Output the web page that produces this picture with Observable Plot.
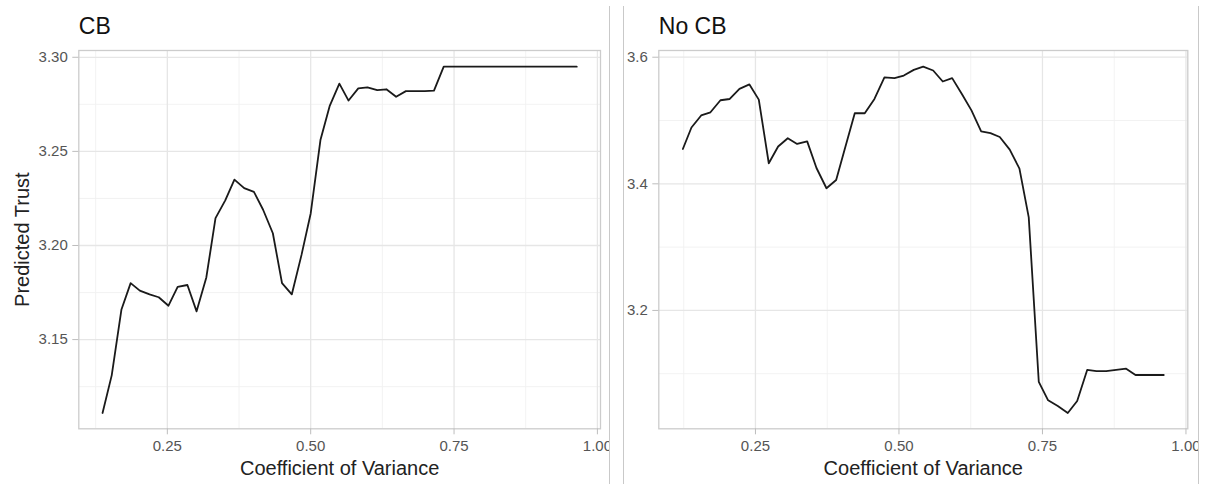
<!DOCTYPE html>
<html>
<head>
<meta charset="utf-8">
<script src="https://cdn.jsdelivr.net/npm/d3@7"></script>
<script src="https://cdn.jsdelivr.net/npm/@observablehq/plot@0.6"></script>
<style>
  html, body { margin: 0; padding: 0; background: #fff; }
  #wrap { position: relative; width: 1206px; height: 484px; overflow: hidden; font-family: "Liberation Sans", Arial, sans-serif; }
  .panel { position: absolute; top: 0; height: 484px; overflow: hidden; }
  .divider { position: absolute; top: 6px; height: 478px; width: 0; border-left: 1px solid #c9c9c9; }
</style>
</head>
<body>
<div id="wrap">
  <div class="panel" id="left" style="left:0;width:609px"></div>
  <div class="panel" id="right" style="left:624px;width:574px"></div>
  <div class="divider" style="left:609px"></div>
  <div class="divider" style="left:623px"></div>
  <div class="divider" style="left:1198px"></div>
</div>
<script>
// ---- Data ----
const panelTitles = ["CB", "No CB"];
const xTitle = "Coefficient of Variance";
const yTitle = "Predicted Trust";

const cbX = [0.137, 0.153, 0.170, 0.186, 0.202, 0.219, 0.235, 0.252, 0.268, 0.285,
             0.301, 0.318, 0.334, 0.351, 0.367, 0.384, 0.401, 0.417, 0.434, 0.450,
             0.467, 0.484, 0.500, 0.517, 0.533, 0.550, 0.566, 0.583, 0.599, 0.616,
             0.632, 0.649, 0.666, 0.682, 0.699, 0.715, 0.732, 0.748, 0.765, 0.781,
             0.798, 0.815, 0.831, 0.848, 0.864, 0.881, 0.897, 0.914, 0.931, 0.947, 0.964];
const cbY = [3.111, 3.131, 3.166, 3.180, 3.176, 3.174, 3.1725, 3.168, 3.178, 3.179,
             3.165, 3.183, 3.2145, 3.224, 3.235, 3.2305, 3.2285, 3.219, 3.2065, 3.180,
             3.174, 3.195, 3.217, 3.256, 3.274, 3.286, 3.277, 3.2835, 3.284, 3.2825,
             3.283, 3.279, 3.282, 3.282, 3.282, 3.2823, 3.295, 3.295, 3.295, 3.295,
             3.295, 3.295, 3.295, 3.295, 3.295, 3.295, 3.295, 3.295, 3.295, 3.295, 3.295];

const noCbX = [0.1235, 0.1385, 0.1554, 0.1716, 0.189, 0.2052, 0.2221, 0.2395, 0.2558, 0.2732,
               0.2895, 0.3063, 0.3226, 0.3401, 0.3563, 0.3737, 0.3906, 0.4068, 0.423, 0.4404,
               0.4573, 0.4747, 0.4922, 0.5084, 0.5258, 0.5422, 0.5596, 0.5763, 0.5927, 0.6101,
               0.6263, 0.6432, 0.6594, 0.6756, 0.693, 0.7099, 0.7261, 0.7436, 0.7599, 0.7767,
               0.7941, 0.8105, 0.8279, 0.8441, 0.861, 0.8784, 0.8958, 0.9121, 0.9294, 0.9451, 0.9613];
const noCbY = [3.455, 3.489, 3.508, 3.513, 3.532, 3.534, 3.550, 3.557, 3.533, 3.4325,
               3.459, 3.472, 3.463, 3.467, 3.425, 3.393, 3.406, 3.459, 3.5115, 3.5115,
               3.534, 3.568, 3.567, 3.571, 3.580, 3.585, 3.579, 3.5616, 3.567, 3.541,
               3.516, 3.483, 3.480, 3.474, 3.454, 3.424, 3.347, 3.087, 3.058, 3.049,
               3.038, 3.057, 3.106, 3.104, 3.104, 3.106, 3.108, 3.098, 3.098, 3.098, 3.098];

const xMajor = [0.25, 0.50, 0.75, 1.00];
const xMinor = [0.125, 0.375, 0.625, 0.875];
const cbYMajor = [3.15, 3.20, 3.25, 3.30];
const cbYMinor = [3.125, 3.175, 3.225, 3.275];
const noCbYMajor = [3.2, 3.4, 3.6];
const noCbYMinor = [3.1, 3.3, 3.5];

const font = '"Liberation Sans", Arial, sans-serif';

function panel({title, xs, ys, width, marginLeft, marginRight, xDomain, yDomain,
                yMajor, yMinor, yFmt, showYTitle}) {
  const data = xs.map((x, i) => ({x, y: ys[i]}));
  const marks = [
    Plot.ruleX(xMinor, {stroke: "#f0f0f0", strokeWidth: 0.9}),
    Plot.ruleY(yMinor, {stroke: "#f0f0f0", strokeWidth: 0.9}),
    Plot.ruleX(xMajor, {stroke: "#e6e6e6", strokeWidth: 1.3}),
    Plot.ruleY(yMajor, {stroke: "#e6e6e6", strokeWidth: 1.3}),
    Plot.frame({stroke: "#cccccc", strokeWidth: 1.3}),
    Plot.line(data, {x: "x", y: "y", stroke: "#1a1a1a", strokeWidth: 1.8}),
    Plot.axisX(xMajor, {tickFormat: d3.format(".2f"), tickSize: 6, tickPadding: 5.5,
      stroke: "#bdbdbd", fill: "#555555", fontSize: 15, label: null}),
    Plot.axisY(yMajor, {tickFormat: d3.format(yFmt), tickSize: 6, tickPadding: 5,
      stroke: "#bdbdbd", fill: "#555555", fontSize: 15, label: null}),
    Plot.text([title], {frameAnchor: "top-left", textAnchor: "start", lineAnchor: "bottom",
      dy: -16.7, fontSize: 23, fill: "#111"}),
    Plot.text([xTitle], {frameAnchor: "bottom", textAnchor: "middle", lineAnchor: "bottom",
      dy: 46.5, fontSize: 20, fill: "#222"})
  ];
  if (showYTitle) {
    marks.push(Plot.text([yTitle], {frameAnchor: "left", textAnchor: "middle", lineAnchor: "bottom",
      rotate: -90, dx: -50, fontSize: 20, fill: "#222"}));
  }
  return Plot.plot({
    width, height: 484,
    marginLeft, marginRight, marginTop: 50, marginBottom: 55.7,
    style: {fontFamily: font, background: "white", overflow: "hidden"},
    x: {domain: xDomain, axis: null},
    y: {domain: yDomain, axis: null},
    marks
  });
}

document.getElementById("left").appendChild(panel({
  title: panelTitles[0], xs: cbX, ys: cbY, width: 609,
  marginLeft: 78.3, marginRight: 9,
  xDomain: [0.0956, 1.0054], yDomain: [3.1026, 3.3036],
  yMajor: cbYMajor, yMinor: cbYMinor, yFmt: ".2f", showYTitle: true
}));

document.getElementById("right").appendChild(panel({
  title: panelTitles[1], xs: noCbX, ys: noCbY, width: 574,
  marginLeft: 34.3, marginRight: 10.7,
  xDomain: [0.0816, 1.0032], yDomain: [3.013, 3.6106],
  yMajor: noCbYMajor, yMinor: noCbYMinor, yFmt: ".1f", showYTitle: false
}));
</script>
</body>
</html>
